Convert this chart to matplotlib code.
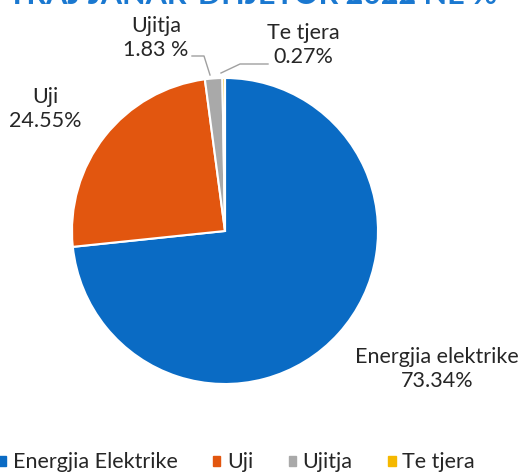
import matplotlib
matplotlib.use('Agg')
import matplotlib.pyplot as plt

# shares of the year, Jan-Dec 2022
kategorite = ['Energjia Elektrike', 'Uji', 'Ujitja', 'Te tjera']
etiketat = ['Energjia elektrike\n73.34%', 'Uji\n24.55%', 'Ujitja\n1.83 %', 'Te tjera\n0.27%']
vlerat = [73.34, 24.55, 1.83, 0.27]
ngjyrat = ['#0a6bc4', '#e2560f', '#a9a9a9', '#f5b800']

plt.rcParams['font.family'] = ['Lato', 'DejaVu Sans']

W, H = 521, 472
fig = plt.figure(figsize=(W / 100, H / 100), dpi=100)
ax = fig.add_axes([0, 0, 1, 1])

cx, cy, r = 225, H - 231, 153
ax.pie(vlerat, colors=ngjyrat, startangle=90, counterclock=False,
       center=(cx, cy), radius=r, explode=[0.015, 0.02, 0.03, 0.03],
       wedgeprops=dict(edgecolor='white', linewidth=1.5))
ax.set_xlim(0, W)
ax.set_ylim(0, H)
ax.set_aspect('equal')
ax.axis('off')

# slice labels
fs = 15.5
ax.text(437, H - 369, etiketat[0], ha='center', va='center', fontsize=fs, color='#262626', linespacing=1.3)
ax.text(45, H - 109, etiketat[1], ha='center', va='center', fontsize=fs, color='#262626', linespacing=1.3)
ax.text(156, H - 38, etiketat[2], ha='center', va='center', fontsize=fs, color='#262626', linespacing=1.3)
ax.text(303, H - 45, etiketat[3], ha='center', va='center', fontsize=fs, color='#262626', linespacing=1.3)

# leader lines
ax.plot([192, 204, 210], [H - 56, H - 56, H - 75], color='#a0a0a0', lw=1)
ax.plot([221, 240, 268], [H - 73, H - 64, H - 64], color='#a0a0a0', lw=1)

# title, cut at the top
ax.text(253, H - 4, 'TRAJ JANAR-DHJETOR 2022 NË %', ha='center', va='baseline',
        fontsize=22, fontweight='bold', color='#1a78d0')

fig.legend([plt.Rectangle((0, 0), 1, 1, color=c) for c in ngjyrat], kategorite,
           loc='lower left', bbox_to_anchor=(-0.04, -0.042), ncol=4, frameon=False,
           fontsize=fs, handlelength=0.35, handleheight=0.35, handletextpad=0.3,
           columnspacing=1.65, labelcolor='#262626')

fig.savefig('out.png', dpi=100)
